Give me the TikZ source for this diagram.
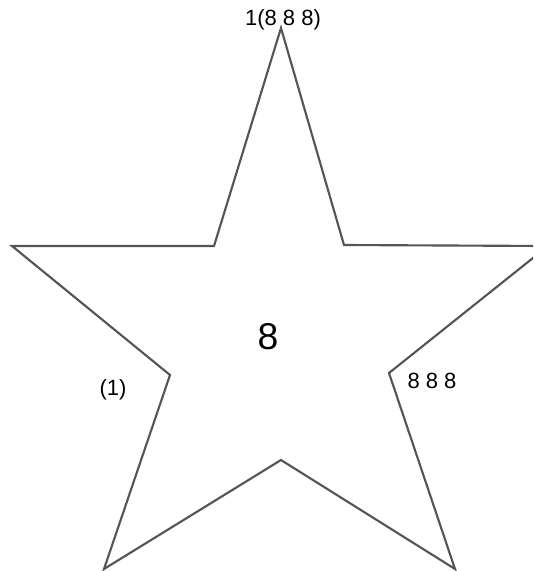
\documentclass[tikz,border=0pt]{standalone}
\usepackage{fontspec}
\setmainfont{Liberation Sans}
\definecolor{StarLine}{RGB}{85, 85, 85}

\begin{document}
\begin{tikzpicture}[x=0.75pt, y=-0.75pt,
    starline/.style={line width=1.6pt, StarLine, line join=miter},
    smalllabel/.style={font=\fontsize{16.5}{18}\selectfont, inner sep=0pt},
    biglabel/.style={font=\fontsize{28}{32}\selectfont, inner sep=0pt}]
    \useasboundingbox (0,0) rectangle (533,571);
    \clip (0,0) rectangle (533,571);

    % Star outline
    \draw[starline] (281,28) -- (344,245) -- (548,246) -- (389,373) --
      (455,569) -- (281,460) -- (104,569) -- (170,375) --
      (12,246) -- (214,246) -- cycle;

    % Labels
    \node[smalllabel] (toplabel) at (283,20) {1(8 8 8)};
    \node[biglabel] (centrelabel) at (268,337) {8};
    \node[smalllabel] (leftlabel) at (113,390) {(1)};
    \node[smalllabel] (rightlabel) at (432,381) {8 8 8};
\end{tikzpicture}
\end{document}
